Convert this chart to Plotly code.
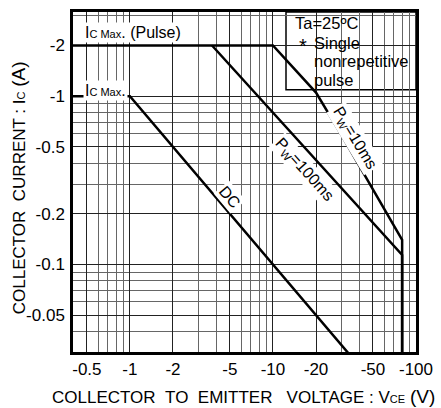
import numpy as np
import plotly.graph_objects as go

# ---- data (magnitudes; axis labels show negative polarity) ----
dc_v = [0.4, 1, 40]
dc_i = [1, 1, 0.025]
pw100_v = [3.75, 80, 80]
pw100_i = [2, 0.114, 0.02]
pw10_v = [0.4, 10, 20, 30, 80, 80]
pw10_i = [2, 2, 1.05, 0.59, 0.14, 0.02]

x_tickvals = [0.5, 1, 2, 5, 10, 20, 50, 100]
x_ticktext = ['-0.5', '-1', '-2', '-5', '-10', '-20', '-50', '-100']
y_tickvals = [0.05, 0.1, 0.2, 0.5, 1, 2]
y_ticktext = ['-0.05', '-0.1', '-0.2', '-0.5', '-1', '-2']
x_minor = [0.4, 0.6, 0.7, 0.8, 0.9, 3, 4, 6, 7, 8, 9, 30, 40, 60, 70, 80, 90]
y_minor = [0.03, 0.04, 0.06, 0.07, 0.08, 0.09, 0.3, 0.4, 0.6, 0.7, 0.8, 0.9, 3]

FONT = 'Liberation Sans, Arial, sans-serif'
line_style = dict(color='black', width=2.5)

fig = go.Figure()
for xs, ys in [(dc_v, dc_i), (pw100_v, pw100_i), (pw10_v, pw10_i)]:
    fig.add_trace(go.Scatter(x=xs, y=ys, mode='lines', line=line_style,
                             hoverinfo='skip'))

axis_common = dict(type='log', showgrid=True, gridcolor='#222', gridwidth=1,
                   showline=True, mirror=True, linecolor='black', linewidth=2.5,
                   ticks='', zeroline=False, automargin=False,
                   tickfont=dict(family=FONT, size=17, color='black'))

fig.update_xaxes(range=[np.log10(0.4), 2.0], tickvals=x_tickvals,
                 ticktext=x_ticktext, ticklabelstandoff=0,
                 minor=dict(tickvals=x_minor, showgrid=True, gridcolor='#666',
                            gridwidth=1, ticks=''),
                 **axis_common)
fig.update_yaxes(range=[-1.52, 0.50], tickvals=y_tickvals,
                 ticktext=y_ticktext, ticklabelstandoff=2,
                 minor=dict(tickvals=y_minor, showgrid=True, gridcolor='#666',
                            gridwidth=1, ticks=''),
                 **axis_common)

small = "<span style='font-size:11px'>%s</span>"
ann = []
ann.append(dict(text="I" + small % "C Max" + ". (Pulse)", x=0.029, y=0.941,
                xanchor='left', bgcolor='white', borderpad=1))
ann.append(dict(text="I" + small % "C Max" + ".", x=0.029, y=0.768,
                xanchor='left', bgcolor='white', borderpad=1))
ann.append(dict(text="DC", x=0.455, y=0.456, textangle=50,
                bgcolor='white', borderpad=1))
ann.append(dict(text="P<sub>W</sub>=100ms", x=0.676, y=0.535, textangle=48,
                bgcolor='white', borderpad=1))
ann.append(dict(text="P<sub>W</sub>=10ms", x=0.822, y=0.629, textangle=59,
                bgcolor='white', borderpad=1))
# condition box text
box_font = dict(size=16.5)
ann.append(dict(text="Ta=25ºC", x=0.641, y=0.967, xanchor='left', font=box_font))
ann.append(dict(text="*", x=0.654, y=0.901, xanchor='left', font=dict(size=20)))
ann.append(dict(text="Single", x=0.697, y=0.908, xanchor='left', font=box_font))
ann.append(dict(text="nonrepetitive", x=0.697, y=0.855, xanchor='left', font=box_font))
ann.append(dict(text="pulse", x=0.697, y=0.801, xanchor='left', font=box_font))
# axis titles
ann.append(dict(text="COLLECTOR\u00a0\u00a0CURRENT : I" + small % "C" +
                " <span style='font-size:19px'>(A)</span>",
                x=-0.160, y=0.482, textangle=-90, font=dict(size=17)))
ann.append(dict(text="COLLECTOR\u00a0\u00a0TO\u00a0\u00a0EMITTER\u00a0\u00a0\u00a0VOLTAGE : V" +
                small % "CE" + " <span style='font-size:19px'>(V)</span>",
                x=0.496, y=-0.132, font=dict(size=17)))
for a in ann:
    a.setdefault('xref', 'paper')
    a.setdefault('yref', 'paper')
    a.setdefault('xanchor', 'center')
    a.setdefault('yanchor', 'middle')
    a.setdefault('showarrow', False)
    a.setdefault('font', dict(size=16))
    a['font'] = dict(family=FONT, color='black', **a['font'])

fig.update_layout(
    width=441, height=408,
    margin=dict(l=73, r=25, t=12, b=56),
    plot_bgcolor='white', paper_bgcolor='white',
    showlegend=False,
    font=dict(family=FONT, size=16, color='black'),
    annotations=ann,
    shapes=[dict(type='rect', xref='paper', yref='paper', x0=0.621, y0=0.771,
                 x1=1.0, y1=1.0, fillcolor='white',
                 line=dict(color='black', width=1.5), layer='between')],
)

fig.write_html("out.html", config={'displayModeBar': False},
               post_script="document.body.style.margin='0';document.body.style.overflow='hidden';")
